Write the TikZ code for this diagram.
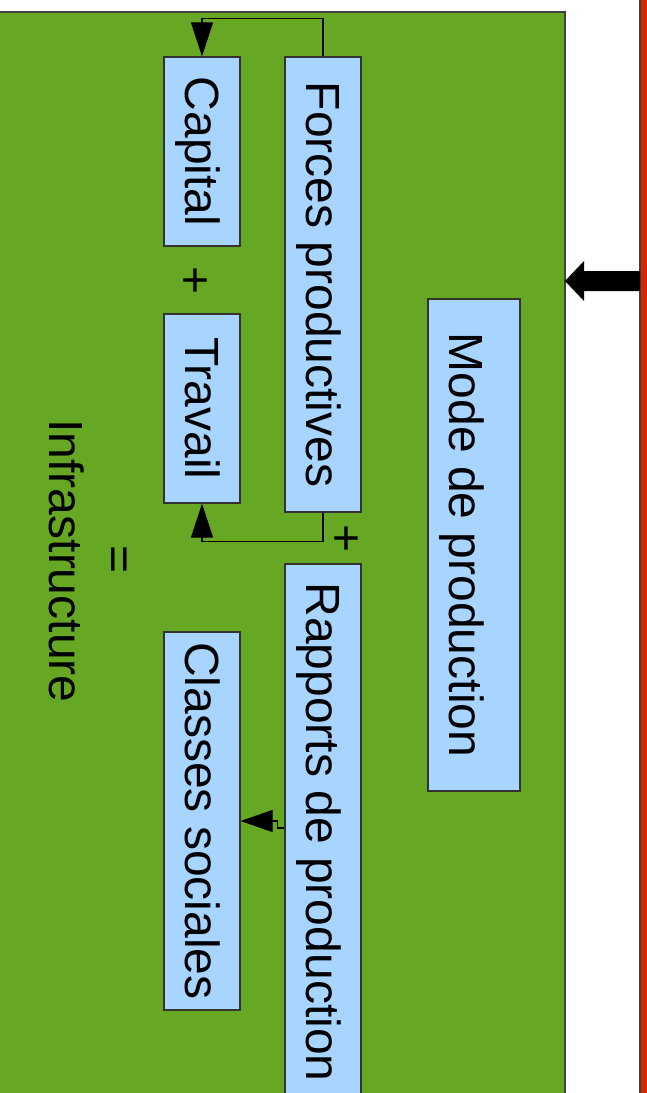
\documentclass[tikz,border=0pt]{standalone}
\usepackage{fontspec}
\setmainfont{Liberation Sans}
\usetikzlibrary{arrows.meta}
\definecolor{infragreen}{RGB}{102,167,35}
\definecolor{boxblue}{RGB}{168,213,255}
\definecolor{bordred}{RGB}{220,35,0}
\tikzset{
  bloc/.style={draw=black!80, fill=boxblue, line width=1.2pt, minimum height=76pt},
  link/.style={draw=black, line width=1.1pt, -{Triangle[width=22pt,length=34pt]}}
}

\begin{document}
\begin{tikzpicture}[x=1pt,y=-1pt,
  every node/.style={font=\fontsize{48}{57}\selectfont, rotate=-90, inner sep=0pt,
    text height=43.4pt, text depth=10.2pt}]
\fill[white] (0,0) rectangle (646,1093);
\useasboundingbox (0,0) rectangle (646,1093);
\draw[fill=infragreen, draw=black!75, line width=1.2pt] (-5,12) rectangle (565,1100);
\draw[fill=bordred, draw=black!75, line width=1.2pt] (640,-5) rectangle (652,1100);
\fill (565,281) -- (584,261) -- (584,271) -- (640,271) -- (640,291) -- (584,291) -- (584,301) -- cycle;

\node[bloc, minimum width=189pt] (capital) at (202,151.5) {Capital};
\node[bloc, minimum width=455pt] (forces) at (323,284.5) {Forces productives};
\node[bloc, minimum width=189pt] (travail) at (202,408.5) {Travail};
\node[bloc, minimum width=536pt] (rapports) at (323,832) {Rapports de production};
\node[bloc, minimum width=378pt] (classes) at (202,821) {Classes sociales};
\node[bloc, minimum width=492pt, minimum height=92pt, text height=60.2pt] (mode) at (474,545) {Mode de production};

\node (plusa) at (196,281) {+};
\node (plusb) at (347,539) {+};
\node (egal) at (120,560) {=};
\node (infra) at (66,561) {Infrastructure};

\draw[link] (forces.west) -- ++(0,-38) -| (capital.west);
\draw[link] (forces.east) -- ++(0,29) -| (travail.east);
\draw[link, -{Triangle[width=22pt,length=32pt]}] ([yshift=4pt]rapports.south) -- ++(-7,0) -- ++(0,-7) -- (classes.north);
\end{tikzpicture}
\end{document}
